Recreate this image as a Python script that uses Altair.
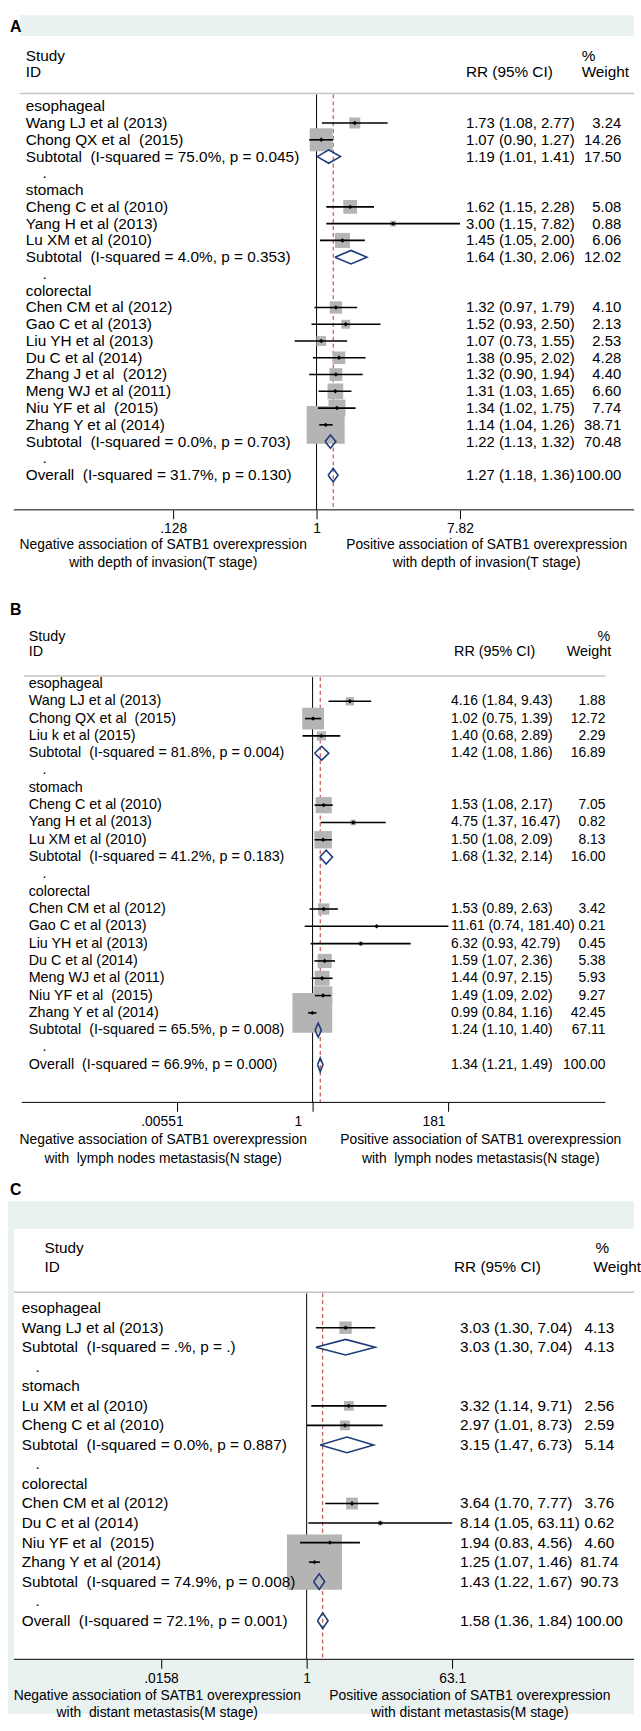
import math
import altair as alt
import pandas as pd

FONT = "Liberation Sans"
NULL_VALUE = 1.0

# ---------------- Panel A: depth of invasion (T stage) ----------------
A_kind = ["group", "study", "study", "sub", "dot",
          "group", "study", "study", "study", "sub", "dot",
          "group", "study", "study", "study", "study", "study", "study", "study", "study", "sub", "dot",
          "overall"]
A_label = ["esophageal", "Wang LJ et al (2013)", "Chong QX et al  (2015)",
           "Subtotal  (I-squared = 75.0%, p = 0.045)", ".",
           "stomach", "Cheng C et al (2010)", "Yang H et al (2013)", "Lu XM et al (2010)",
           "Subtotal  (I-squared = 4.0%, p = 0.353)", ".",
           "colorectal", "Chen CM et al (2012)", "Gao C et al (2013)", "Liu YH et al (2013)",
           "Du C et al (2014)", "Zhang J et al  (2012)", "Meng WJ et al (2011)",
           "Niu YF et al  (2015)", "Zhang Y et al (2014)",
           "Subtotal  (I-squared = 0.0%, p = 0.703)", ".",
           "Overall  (I-squared = 31.7%, p = 0.130)"]
A_rr = [None, 1.73, 1.07, 1.19, None, None, 1.62, 3.00, 1.45, 1.64, None, None,
        1.32, 1.52, 1.07, 1.38, 1.32, 1.31, 1.34, 1.14, 1.22, None, 1.27]
A_lo = [None, 1.08, 0.90, 1.01, None, None, 1.15, 1.15, 1.05, 1.30, None, None,
        0.97, 0.93, 0.73, 0.95, 0.90, 1.03, 1.02, 1.04, 1.13, None, 1.18]
A_hi = [None, 2.77, 1.27, 1.41, None, None, 2.28, 7.82, 2.00, 2.06, None, None,
        1.79, 2.50, 1.55, 2.02, 1.94, 1.65, 1.75, 1.26, 1.32, None, 1.36]
A_wt = [None, 3.24, 14.26, 17.50, None, None, 5.08, 0.88, 6.06, 12.02, None, None,
        4.10, 2.13, 2.53, 4.28, 4.40, 6.60, 7.74, 38.71, 70.48, None, 100.00]
A_ticks = [0.128, 1, 7.82]
A_foot = ["Negative association of SATB1 overexpression", "with depth of invasion(T stage)",
          "Positive association of SATB1 overexpression", "with depth of invasion(T stage)"]

# ---------------- Panel B: lymph nodes metastasis (N stage) ----------------
B_kind = ["group", "study", "study", "study", "sub", "dot",
          "group", "study", "study", "study", "sub", "dot",
          "group", "study", "study", "study", "study", "study", "study", "study", "sub", "dot",
          "overall"]
B_label = ["esophageal", "Wang LJ et al (2013)", "Chong QX et al  (2015)", "Liu k et al (2015)",
           "Subtotal  (I-squared = 81.8%, p = 0.004)", ".",
           "stomach", "Cheng C et al (2010)", "Yang H et al (2013)", "Lu XM et al (2010)",
           "Subtotal  (I-squared = 41.2%, p = 0.183)", ".",
           "colorectal", "Chen CM et al (2012)", "Gao C et al (2013)", "Liu YH et al (2013)",
           "Du C et al (2014)", "Meng WJ et al (2011)", "Niu YF et al  (2015)", "Zhang Y et al (2014)",
           "Subtotal  (I-squared = 65.5%, p = 0.008)", ".",
           "Overall  (I-squared = 66.9%, p = 0.000)"]
B_rr = [None, 4.16, 1.02, 1.40, 1.42, None, None, 1.53, 4.75, 1.50, 1.68, None, None,
        1.53, 11.61, 6.32, 1.59, 1.44, 1.49, 0.99, 1.24, None, 1.34]
B_lo = [None, 1.84, 0.75, 0.68, 1.08, None, None, 1.08, 1.37, 1.08, 1.32, None, None,
        0.89, 0.74, 0.93, 1.07, 0.97, 1.09, 0.84, 1.10, None, 1.21]
B_hi = [None, 9.43, 1.39, 2.89, 1.86, None, None, 2.17, 16.47, 2.09, 2.14, None, None,
        2.63, 181.40, 42.79, 2.36, 2.15, 2.02, 1.16, 1.40, None, 1.49]
B_wt = [None, 1.88, 12.72, 2.29, 16.89, None, None, 7.05, 0.82, 8.13, 16.00, None, None,
        3.42, 0.21, 0.45, 5.38, 5.93, 9.27, 42.45, 67.11, None, 100.00]
B_ticks = [0.00551, 1, 181]
B_foot = ["Negative association of SATB1 overexpression", "with  lymph nodes metastasis(N stage)",
          "Positive association of SATB1 overexpression", "with  lymph nodes metastasis(N stage)"]

# ---------------- Panel C: distant metastasis (M stage) ----------------
C_kind = ["group", "study", "sub", "dot",
          "group", "study", "study", "sub", "dot",
          "group", "study", "study", "study", "study", "sub", "dot",
          "overall"]
C_label = ["esophageal", "Wang LJ et al (2013)", "Subtotal  (I-squared = .%, p = .)", ".",
           "stomach", "Lu XM et al (2010)", "Cheng C et al (2010)",
           "Subtotal  (I-squared = 0.0%, p = 0.887)", ".",
           "colorectal", "Chen CM et al (2012)", "Du C et al (2014)", "Niu YF et al  (2015)",
           "Zhang Y et al (2014)", "Subtotal  (I-squared = 74.9%, p = 0.008)", ".",
           "Overall  (I-squared = 72.1%, p = 0.001)"]
C_rr = [None, 3.03, 3.03, None, None, 3.32, 2.97, 3.15, None, None, 3.64, 8.14, 1.94, 1.25, 1.43, None, 1.58]
C_lo = [None, 1.30, 1.30, None, None, 1.14, 1.01, 1.47, None, None, 1.70, 1.05, 0.83, 1.07, 1.22, None, 1.36]
C_hi = [None, 7.04, 7.04, None, None, 9.71, 8.73, 6.73, None, None, 7.77, 63.11, 4.56, 1.46, 1.67, None, 1.84]
C_wt = [None, 4.13, 4.13, None, None, 2.56, 2.59, 5.14, None, None, 3.76, 0.62, 4.60, 81.74, 90.73, None, 100.00]
C_ticks = [0.0158, 1, 63.1]
C_foot = ["Negative association of SATB1 overexpression", "with  distant metastasis(M stage)",
          "Positive association of SATB1 overexpression", "with distant metastasis(M stage)"]

HEADER = ["Study", "ID", "RR (95% CI)", "%", "Weight"]
LETTERS = ["A", "B", "C"]


def build(kind, label, rr, lo, hi, wt):
    df = pd.DataFrame({"kind": kind,
                       "label": [s.replace("  ", "\u00a0 ") for s in label],
                       "rr": rr, "lo": lo, "hi": hi, "wt": wt})
    df["row"] = list(range(len(df)))
    df["ci"] = [f"{r:.2f} ({l:.2f}, {h:.2f})" if pd.notna(r) else ""
                for r, l, h in zip(df.rr, df.lo, df.hi)]
    df["wtxt"] = [f"{w:.2f}" if pd.notna(w) else "" for w in df.wt]
    return df


def diamonds(df, half):
    rows = []
    for _, r in df[df.kind.isin(["sub", "overall"])].iterrows():
        pts = [(r.lo, 0), (r.rr, -half), (r.hi, 0), (r.rr, half), (r.lo, 0)]
        for k, (xv, dy) in enumerate(pts):
            rows.append({"did": int(r.row), "ord": k, "x": xv, "row": r.row + dy})
    return pd.DataFrame(rows)


ONE = pd.DataFrame({"k": [0]})


def txt(s, x, y, fs, align="left", bold=False):
    return alt.Chart(pd.DataFrame({"t": [s]})).mark_text(
        align=align, baseline="middle", font=FONT, fontSize=fs, color="black",
        fontWeight="bold" if bold else "normal"
    ).encode(text="t:N", x=alt.value(x), y=alt.value(y))


def hrule(x0, x1, y, color, sw):
    return alt.Chart(ONE).mark_rule(color=color, strokeWidth=sw).encode(
        x=alt.value(x0), x2=alt.value(x1), y=alt.value(y))


def rect(x0, x1, y0, y1, color):
    return alt.Chart(ONE).mark_rect(color=color).encode(
        x=alt.value(x0), x2=alt.value(x1), y=alt.value(y0), y2=alt.value(y1))


def panel(df, ticks, foot, letter, P):
    W = 641
    H = P["H"]
    xs = alt.Scale(type="log", domain=[math.exp(-P["c"] / P["u"]), math.exp((W - P["c"]) / P["u"])],
                   nice=False)
    ys = alt.Scale(domain=[-P["p0"] / P["sp"], (H - P["p0"]) / P["sp"]], reverse=True,
                   nice=False, zero=False)
    xaxis = alt.Axis(values=ticks, labelExpr="replace(format(datum.value, '.3~g'), '0.', '.')",
                     domain=False, grid=False, ticks=True, tickSize=9, tickColor="black",
                     tickWidth=1, labelFont=FONT, labelFontSize=14, labelColor="black",
                     labelPadding=3, title=None, labelOffset=P.get("loff", 0), zindex=1,
                     labelFlush=False, labelOverlap=False, labelBound=False)

    def X(f):
        return alt.X(f"{f}:Q", scale=xs, axis=xaxis)

    Y = alt.Y("row:Q", scale=ys, axis=None)
    fs = P["fs"]
    nfs = P["nfs"]
    base = alt.Chart(df)
    layers = []
    for r in P.get("rects", []):
        layers.append(rect(*r))
    layers.append(txt(letter, 10, P["ly"], 16, bold=True))
    hx = P["hdr"]
    layers += [txt(HEADER[0], hx["sx"], hx["y1"], fs), txt(HEADER[1], hx["sx"], hx["y2"], fs),
               txt(HEADER[2], hx["rx"], hx["y2"], fs), txt(HEADER[3], hx["px"], hx["y1"], fs),
               txt(HEADER[4], hx["wx"], hx["y2"], fs)]
    layers.append(hrule(P["hl"][0], P["hl"][1], P["hl"][2], "#c4c4c4", 1.5))
    layers.append(alt.Chart(pd.DataFrame({"nv": [NULL_VALUE]})).mark_rule(
        color="black", strokeWidth=1).encode(x=X("nv"), y=alt.value(P["hl"][2] + 1), y2=alt.value(H)))
    layers.append(base.transform_filter("datum.kind == 'overall'").mark_rule(
        color="#b5332e", strokeWidth=1, strokeDash=[4, 3]).encode(
        x=X("rr"), y=alt.value(P["hl"][2] + 1), y2=alt.value(H)))
    studies = base.transform_filter("datum.kind == 'study'")
    layers.append(studies.mark_square(filled=True, color="#b4b4b4", opacity=1).encode(
        x=X("rr"), y=Y,
        size=alt.Size("wt:Q", scale=alt.Scale(domain=[0, 100], range=[0, P["k2"] * 100]), legend=None)))
    layers.append(studies.mark_rule(color="black", strokeWidth=1.6).encode(x=X("lo"), x2="hi:Q", y=Y))
    layers.append(studies.mark_point(shape="diamond", filled=True, size=20, color="black",
                                     opacity=1).encode(x=X("rr"), y=Y))
    layers.append(alt.Chart(diamonds(df, 0.4)).mark_line(color="#1d3b78", strokeWidth=1.6).encode(
        x=X("x"), y=Y, detail="did:N", order="ord:Q"))
    tstyle = dict(baseline="middle", font=FONT, color="black")
    layers.append(base.transform_filter("datum.kind != 'dot'").mark_text(
        align="left", fontSize=fs, **tstyle).encode(x=alt.value(P["lx"]), y=Y, text="label:N"))
    layers.append(base.transform_filter("datum.kind == 'dot'").mark_text(
        align="left", fontSize=fs, **tstyle).encode(x=alt.value(P["dx"]), y=Y, text="label:N"))
    layers.append(base.transform_filter("isValid(datum.rr)").mark_text(
        align="left", fontSize=nfs, **tstyle).encode(x=alt.value(P["rx"]), y=Y, text="ci:N"))
    layers.append(base.transform_filter("isValid(datum.wt)").mark_text(
        align=P["walign"], fontSize=nfs, **tstyle).encode(x=alt.value(P["wx"]), y=Y, text="wtxt:N"))
    layers.append(hrule(P["ax"][0], P["ax"][1], H, "black", 1))
    f = P["foot"]
    layers += [txt(foot[0].replace("  ", "\u00a0 "), f["nx"], f["y1"], 14, align="center"),
               txt(foot[1].replace("  ", "\u00a0 "), f["nx"], f["y2"], 14, align="center"),
               txt(foot[2].replace("  ", "\u00a0 "), f["px"], f["y1"], 14, align="center"),
               txt(foot[3].replace("  ", "\u00a0 "), f["px"], f["y2"], 14, align="center")]
    return alt.layer(*layers).properties(width=W, height=H)


PA = dict(H=506, c=320, u=70.5, p0=98, sp=16.95, fs=15.5, nfs=15, k2=38, lx=26, dx=43, rx=471, wx=628,
          walign="right", ly=18,
          rects=[(20, 641, 6, 27, "#e9f1f1")],
          hdr=dict(sx=26, rx=471, px=588, wx=588, y1=47, y2=63),
          hl=(20, 641, 85), ax=(14, 641),
          foot=dict(nx=165, px=492, y1=542, y2=560))
PB = dict(H=599, c=316, u=26.4, p0=176, sp=17.5, fs=14.5, nfs=14, k2=38.5, lx=29, dx=43, rx=456, wx=612,
          walign="right", ly=101, loff=-15,
          hdr=dict(sx=29, rx=459, px=604, wx=573, y1=129, y2=144),
          hl=(24, 612, 168), ax=(22, 612),
          foot=dict(nx=165, px=486, y1=637, y2=656))
PC = dict(H=563, c=310, u=35.5, p0=208, sp=19.75, fs=15.5, nfs=15.5, k2=14, lx=22, dx=36, rx=465, wx=606,
          walign="center", ly=89,
          rects=[(8, 641, 100, 618, "#e9f1f1"), (14, 641, 128, 563, "white")],
          hdr=dict(sx=45, rx=459, px=602, wx=600, y1=147, y2=166),
          hl=(14, 641, 192), ax=(14, 641),
          foot=dict(nx=159, px=475, y1=600, y2=617))

dfA = build(A_kind, A_label, A_rr, A_lo, A_hi, A_wt)
dfB = build(B_kind, B_label, B_rr, B_lo, B_hi, B_wt)
dfC = build(C_kind, C_label, C_rr, C_lo, C_hi, C_wt)

chart = alt.vconcat(
    panel(dfA, A_ticks, A_foot, LETTERS[0], PA),
    panel(dfB, B_ticks, B_foot, LETTERS[1], PB),
    panel(dfC, C_ticks, C_foot, LETTERS[2], PC),
    spacing=0, bounds="flush", padding=0, background="white",
).configure_view(stroke=None)

chart.save("out.html", embed_options={"renderer": "svg", "actions": False})
